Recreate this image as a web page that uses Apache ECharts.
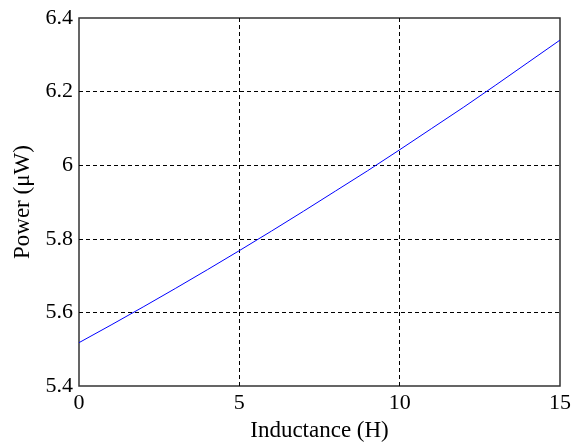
<!DOCTYPE html>
<html><head><meta charset="utf-8">
<script src="https://cdn.jsdelivr.net/npm/echarts@6/dist/echarts.min.js"></script>
<style>html,body{margin:0;padding:0;background:#fff}#c{width:579px;height:447px}</style>
</head><body><div id="c"></div>
<script>
const inductance = [0,1,2,3,4,5,6,7,8,9,10,11,12,13,14,15];
const power = [5.518,5.566,5.615,5.665,5.716,5.768,5.821,5.875,5.930,5.985,6.042,6.100,6.158,6.218,6.279,6.340];
const xTicks = [0,5,10,15];
const yTicks = [5.4,5.6,5.8,6,6.2,6.4];
const font = 'Liberation Serif';
const chart = echarts.init(document.getElementById('c'));
chart.setOption({
  animation:false,
  grid:{left:79,right:19,top:18,bottom:58,show:true,borderColor:'#333',borderWidth:1.5},
  xAxis:{type:'value',min:0,max:15,interval:5,name:'Inductance (H)',nameLocation:'middle',nameGap:32,
    nameTextStyle:{fontFamily:font,fontSize:23,color:'#000'},
    axisLine:{show:false},axisTick:{show:false},
    axisLabel:{fontFamily:font,fontSize:22,color:'#000',margin:6,formatter:v=>xTicks.includes(v)?String(v):''},
    splitLine:{show:true,showMinLine:false,showMaxLine:false,lineStyle:{color:'#000',type:[4,3],width:1}}},
  yAxis:{type:'value',min:5.4,max:6.4,interval:0.2,name:'Power (\u03bcW)',nameLocation:'middle',nameGap:41,
    nameTextStyle:{fontFamily:font,fontSize:23,color:'#000'},
    axisLine:{show:false},axisTick:{show:false},
    axisLabel:{fontFamily:font,fontSize:22,color:'#000',margin:6,formatter:v=>{const t=yTicks.find(y=>Math.abs(y-v)<1e-6);return t===undefined?'':String(t);}},
    splitLine:{show:true,showMinLine:false,showMaxLine:false,lineStyle:{color:'#000',type:[4,3],width:1}}},
  series:[{type:'line',data:inductance.map((x,i)=>[x,power[i]]),showSymbol:false,smooth:false,
    lineStyle:{color:'#0000ff',width:1}}]
});
</script></body></html>
